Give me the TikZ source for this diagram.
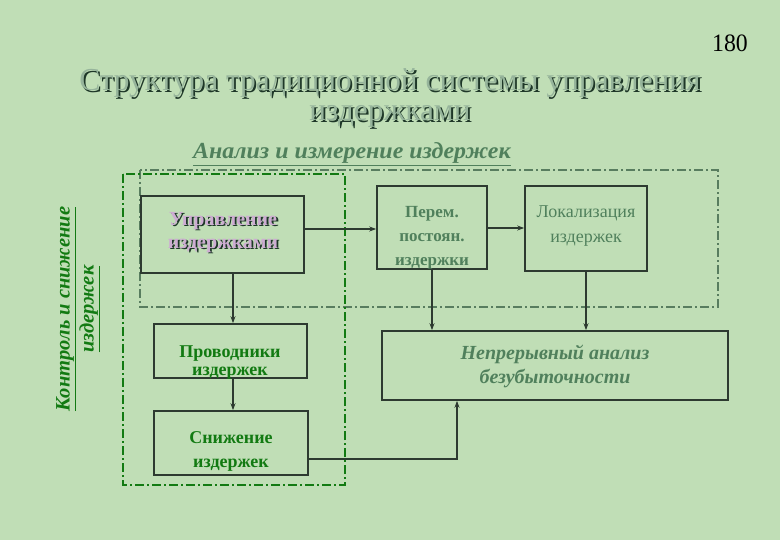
\documentclass[tikz,border=0pt]{standalone}
\usepackage{fontspec}
\setmainfont{Liberation Serif}
\usetikzlibrary{arrows.meta}
\definecolor{bgc}{RGB}{192,222,182}
\definecolor{boxline}{RGB}{45,58,48}
\definecolor{frameg}{RGB}{88,125,95}
\definecolor{grayt}{RGB}{80,128,92}
\definecolor{greent}{RGB}{18,122,18}
\definecolor{pinkt}{RGB}{205,172,210}
\definecolor{titlet}{RGB}{150,180,155}
\definecolor{shadowc}{RGB}{30,55,40}
\newcommand{\shdtxt}[1]{\leavevmode\rlap{\kern1.8pt\raisebox{-1.6pt}{\textcolor{shadowc}{#1}}}#1}
\tikzset{
  boxn/.style={draw=boxline, line width=1.6pt, rectangle, inner sep=0pt},
  arr/.style={-{Stealth[length=7pt,width=5pt]}, draw=boxline, line width=1.4pt},
  txt/.style={align=center, inner sep=0pt},
  ddash/.style={dash pattern=on 9pt off 3pt on 2pt off 3pt},
  titlef/.style={font={\fontsize{32}{30.5}\selectfont\addfontfeature{FakeStretch=0.98}}},
  uprf/.style={font={\fontsize{20}{23}\selectfont\bfseries}}
}
\begin{document}
\begin{tikzpicture}[x=1pt,y=-1pt]
\fill[bgc] (0,0) rectangle (780,540);
\useasboundingbox (0,0) rectangle (780,540);

% page number
\node[txt, anchor=base, font={\fontsize{25}{27}\selectfont\addfontfeature{FakeStretch=0.95}}] (num) at (730,52) {180};

% title with shadow
\node[txt, text=titlet, titlef] (tt) at (390,99) {\shdtxt{Структура традиционной системы управления}\\\shdtxt{издержками}};

% heading
\node[txt, anchor=base, text=grayt, font={\fontsize{23}{25}\selectfont\bfseries\itshape\addfontfeature{FakeStretch=1.04}}] (anl) at (352,159) {\underline{Анализ и измерение издержек}};

% frames
\draw[frameg, line width=1.5pt, ddash] (140,170) rectangle (718,307);
\draw[greent, line width=1.6pt, ddash] (123,174) rectangle (345,485);

% boxes
\node[boxn, minimum width=163pt, minimum height=77pt] (upr) at (222.5,234.5) {};
\node[boxn, minimum width=110pt, minimum height=83pt] (perem) at (432,227.5) {};
\node[boxn, minimum width=122pt, minimum height=85pt] (lok) at (586,228.5) {};
\node[boxn, minimum width=346pt, minimum height=69pt] (nepr) at (555,365.5) {};
\node[boxn, minimum width=153pt, minimum height=54pt] (prov) at (230.5,351) {};
\node[boxn, minimum width=154pt, minimum height=64pt] (snizh) at (231,443) {};

% box texts
\node[txt, text=pinkt, uprf] (upr-t) at (223,233) {\shdtxt{Управление}\\\shdtxt{издержками}};
\node[txt, text=grayt, font={\fontsize{17}{24}\selectfont\bfseries}] (perem-t) at (432,238) {Перем.\\постоян.\\издержки};
\node[txt, text=grayt, font={\fontsize{18}{24.5}\selectfont}] (lok-t) at (586,226) {Локализация\\издержек};
\node[txt, text=grayt, font={\fontsize{20}{24}\selectfont\bfseries\itshape}] (nepr-t) at (555,366) {Непрерывный анализ\\безубыточности};
\node[txt, text=greent, font={\fontsize{18}{18}\selectfont\bfseries}] (prov-t) at (230,363) {Проводники\\издержек};
\node[txt, text=greent, font={\fontsize{18}{24}\selectfont\bfseries}] (snizh-t) at (231,451) {Снижение\\издержек};

% vertical label
\node[txt, text=greent, rotate=90, font={\fontsize{20.5}{24}\selectfont\bfseries\itshape}] (ctrl) at (78,309) {\underline{Контроль и снижение}\\\underline{издержек}};

% connectors
\draw[arr] (upr.east |- 0,229) -- (perem.west |- 0,229);
\draw[arr] (perem.east |- 0,228) -- (lok.west |- 0,228);
\draw[arr] (upr.south -| 233,0) -- (prov.north -| 233,0);
\draw[arr] (prov.south -| 233,0) -- (snizh.north -| 233,0);
\draw[arr] (perem.south) -- (perem.south |- nepr.north);
\draw[arr] (lok.south) -- (lok.south |- nepr.north);
\draw[arr] (snizh.east |- 0,459) -| (nepr.south -| 457,0);
\end{tikzpicture}
\end{document}
